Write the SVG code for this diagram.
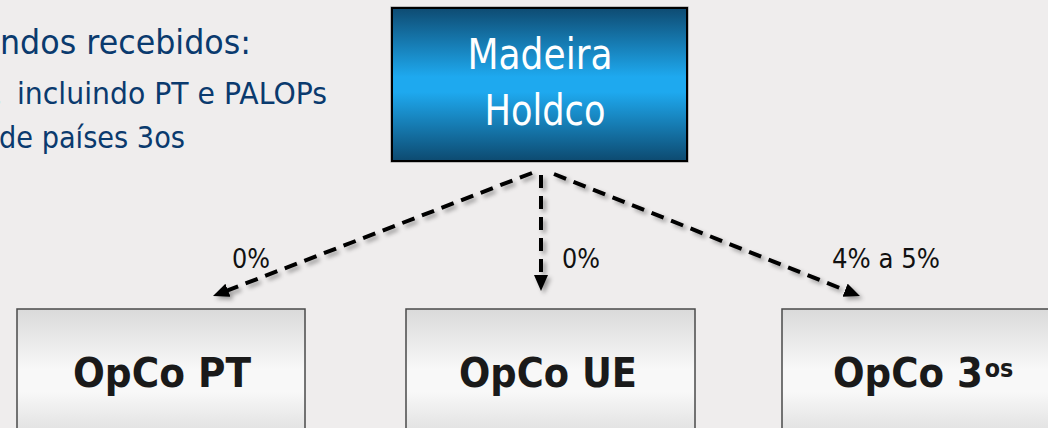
<svg xmlns="http://www.w3.org/2000/svg" width="1048" height="428" viewBox="0 0 1048 428">
  <style>
    .note { font-family: "DejaVu Sans", "Liberation Sans", sans-serif; fill: #0a3a6e; }
    .lbl { font-family: "DejaVu Sans", "Liberation Sans", sans-serif; font-size: 26px; fill: #111111; }
    .hold { font-family: "DejaVu Sans", "Liberation Sans", sans-serif; font-size: 42px; fill: #ffffff; text-anchor: middle; }
    .opco { font-family: "DejaVu Sans", "Liberation Sans", sans-serif; font-weight: bold; font-size: 40px; fill: #1a1a1a; text-anchor: middle; }
    .opco.start { text-anchor: start; }
    .opbox { fill: url(#greyGrad); stroke: #4a4a4a; stroke-width: 1.5; }
    .conn { fill: none; stroke: #000000; stroke-width: 4; stroke-dasharray: 13 8; }
  </style>
  <defs>
    <linearGradient id="blueGrad" x1="0" y1="0" x2="0" y2="1">
      <stop offset="0" stop-color="#0e4b72"/>
      <stop offset="0.45" stop-color="#1ea9ef"/>
      <stop offset="0.55" stop-color="#1ea9ef"/>
      <stop offset="1" stop-color="#0d4a70"/>
    </linearGradient>
    <linearGradient id="greyGrad" x1="0" y1="0" x2="0" y2="1">
      <stop offset="0" stop-color="#dadada"/>
      <stop offset="0.4" stop-color="#f8f8f8"/>
      <stop offset="0.55" stop-color="#f8f8f8"/>
      <stop offset="1" stop-color="#d2d2d2"/>
    </linearGradient>
    <filter id="shadow" x="-20%" y="-20%" width="140%" height="140%">
      <feDropShadow dx="3" dy="3" stdDeviation="2" flood-color="#000000" flood-opacity="0.35"/>
    </filter>
    <marker id="arrow" markerUnits="userSpaceOnUse" markerWidth="18" markerHeight="16" refX="1" refY="7" orient="auto">
      <path d="M0,0 L16,7 L0,14 z" fill="#000000"/>
    </marker>
  </defs>

  <rect x="0" y="0" width="1048" height="428" fill="#efeded"/>

  <g id="notes">
    <text class="note" x="0" y="54" font-size="34" textLength="251" lengthAdjust="spacingAndGlyphs">ndos recebidos:</text>
    <text class="note" x="-7" y="104" font-size="30">,</text>
    <text class="note" x="17" y="104" font-size="30" textLength="310" lengthAdjust="spacingAndGlyphs">incluindo PT e PALOPs</text>
    <text class="note" x="-1" y="148" font-size="30" textLength="186" lengthAdjust="spacingAndGlyphs">de países 3os</text>
  </g>

  <g id="connectors" filter="url(#shadow)">
    <line class="conn" x1="532" y1="173" x2="227" y2="290.6" marker-end="url(#arrow)"/>
    <line class="conn" x1="541" y1="175" x2="541" y2="276" marker-end="url(#arrow)"/>
    <line class="conn" x1="554" y1="174" x2="846" y2="290.5" marker-end="url(#arrow)"/>
  </g>

  <g id="labels">
    <text class="lbl" x="232" y="268" textLength="38" lengthAdjust="spacingAndGlyphs">0%</text>
    <text class="lbl" x="562" y="268" textLength="38" lengthAdjust="spacingAndGlyphs">0%</text>
    <text class="lbl" x="832" y="268" textLength="108" lengthAdjust="spacingAndGlyphs">4% a 5%</text>
  </g>

  <g id="madeira-holdco">
    <rect x="391" y="7" width="297" height="155" fill="none" stroke="#8a8a8a" stroke-width="1"/>
    <rect x="392" y="8" width="295" height="153" fill="url(#blueGrad)" stroke="#000000" stroke-width="2"/>
    <text class="hold" x="540" y="69" textLength="145" lengthAdjust="spacingAndGlyphs">Madeira</text>
    <text class="hold" x="545" y="125" textLength="121" lengthAdjust="spacingAndGlyphs">Holdco</text>
  </g>

  <g id="opco-pt">
    <rect class="opbox" x="17" y="309" width="288" height="150"/>
    <text class="opco" x="162" y="387" textLength="178" lengthAdjust="spacingAndGlyphs">OpCo PT</text>
  </g>

  <g id="opco-ue">
    <rect class="opbox" x="406" y="309" width="289" height="150"/>
    <text class="opco" x="548" y="387" textLength="178" lengthAdjust="spacingAndGlyphs">OpCo UE</text>
  </g>

  <g id="opco-3os">
    <rect class="opbox" x="782" y="309" width="289" height="150"/>
    <text class="opco start" transform="translate(833,387) scale(0.93,1)" x="0" y="0">OpCo 3<tspan font-size="24" dx="2" dy="-10">os</tspan></text>
  </g>
</svg>
